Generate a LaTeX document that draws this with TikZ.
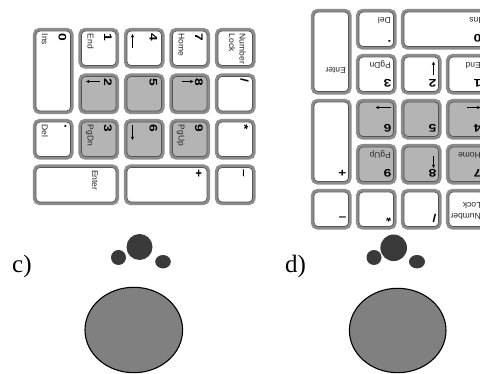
\documentclass[tikz,border=0pt]{standalone}
\usepackage{fontspec}
\usepackage{graphicx}
\setmainfont{Liberation Serif}
\newfontfamily\keyfont{Liberation Sans}
\usetikzlibrary{arrows.meta}

\definecolor{keyrim}{RGB}{140,140,140}
\definecolor{keyedge}{RGB}{85,85,85}
\definecolor{keyshade}{RGB}{180,180,180}
\definecolor{dotgray}{RGB}{58,58,58}
\definecolor{padgray}{RGB}{128,128,128}

\tikzset{
  keycap/.style={draw=keyedge, line width=0.7pt, rounded corners=4pt,
    inner sep=0pt, outer sep=0pt, preaction={draw=keyrim, line width=6.4pt}},
  numtext/.style={inner sep=0pt, anchor=base west,
    font=\keyfont\bfseries\fontsize{11}{12}\selectfont},
  labtext/.style={inner sep=0pt, anchor=base west, text=black!85,
    font=\keyfont\fontsize{8.5}{9}\selectfont},
  keyarrow/.style={line width=0.6pt, -{Stealth[length=3.5pt,width=3.2pt]}},
  panellabel/.style={inner sep=0pt, anchor=base west,
    font=\fontsize{25}{26}\selectfont},
  thumbdot/.style={fill=dotgray},
  touchpad/.style={fill=padgray, draw=black, line width=1.1pt},
}

% digits on the caps are wider than the plain bold face
\newcommand\kdig[1]{\scalebox{1.25}[1]{#1}}

% one key: name, column, row, width and height in cells, fill
\newcommand\kcap[6]{%
  \node[keycap, fill=#6,
        minimum width={#4*\kp-\kgap-6}, minimum height={#5*\kp-\kgap-6}]
        (#1) at ({(#2+#4/2)*\kp},{-(#3+#5/2)*\kp}) {};}
% main legend of a key: name, column, row, text, baseline depth
\newcommand\knum[5]{%
  \node[numtext] (#1) at ({#2*\kp+\kgap/2+5},{-(#3*\kp+\kgap/2+#5)}) {\kdig{#4}};}
% small legend: name, column, row, text, baseline depth
\newcommand\klab[5]{%
  \node[labtext] (#1) at ({#2*\kp+\kgap/2+5.5},{-(#3*\kp+\kgap/2+#5)}) {#4};}
% arrow legend: column, row, start x, start y, end x, end y
\newcommand\karrow[6]{%
  \draw[keyarrow] ({#1*\kp+\kgap/2+#3},{-(#2*\kp+\kgap/2+#4)})
    -- ({#1*\kp+\kgap/2+#5},{-(#2*\kp+\kgap/2+#6)});}

% a numeric keypad in its upright frame, origin at the top left corner
% #1 name prefix, #2 fill of 7 and 4, #3 fill of 2 and 3
\newcommand\numpad[3]{%
  \kcap{#1nl}{0}{0}{1}{1}{white}
  \klab{#1nlA}{0}{0}{Number}{16}
  \klab{#1nlB}{0}{0}{Lock}{26.5}
  \kcap{#1sl}{1}{0}{1}{1}{white}
  \knum{#1slT}{1}{0}{/}{15}
  \kcap{#1st}{2}{0}{1}{1}{white}
  \knum{#1stT}{2}{0}{*}{15}
  \kcap{#1mi}{3}{0}{1}{1}{white}
  \knum{#1miT}{3}{0}{\textendash}{15}
  %
  \kcap{#1k7}{0}{1}{1}{1}{#2}
  \knum{#1t7}{0}{1}{7}{15}
  \klab{#1l7}{0}{1}{Home}{31.5}
  \kcap{#1k8}{1}{1}{1}{1}{keyshade}
  \knum{#1t8}{1}{1}{8}{15}
  \karrow{1}{1}{8}{28.5}{8}{16.5}
  \kcap{#1k9}{2}{1}{1}{1}{keyshade}
  \knum{#1t9}{2}{1}{9}{15}
  \klab{#1l9}{2}{1}{PgUp}{31.5}
  \kcap{#1pl}{3}{1}{1}{2}{white}
  \knum{#1plT}{3}{1}{+}{15}
  %
  \kcap{#1k4}{0}{2}{1}{1}{#2}
  \knum{#1t4}{0}{2}{4}{15}
  \karrow{0}{2}{20}{32}{6}{32}
  \kcap{#1k5}{1}{2}{1}{1}{keyshade}
  \knum{#1t5}{1}{2}{5}{15}
  \kcap{#1k6}{2}{2}{1}{1}{keyshade}
  \knum{#1t6}{2}{2}{6}{15}
  \karrow{2}{2}{6}{32}{21}{32}
  %
  \kcap{#1k1}{0}{3}{1}{1}{white}
  \knum{#1t1}{0}{3}{1}{15}
  \klab{#1l1}{0}{3}{End}{31.5}
  \kcap{#1k2}{1}{3}{1}{1}{#3}
  \knum{#1t2}{1}{3}{2}{15}
  \karrow{1}{3}{8}{19}{8}{33}
  \kcap{#1k3}{2}{3}{1}{1}{#3}
  \knum{#1t3}{2}{3}{3}{15}
  \klab{#1l3}{2}{3}{PgDn}{31.5}
  \kcap{#1en}{3}{3}{1}{2}{white}
  \klab{#1enT}{3}{3}{Enter}{27}
  %
  \kcap{#1k0}{0}{4}{2}{1}{white}
  \knum{#1t0}{0}{4}{0}{15}
  \klab{#1l0}{0}{4}{Ins}{31.5}
  \kcap{#1dt}{2}{4}{1}{1}{white}
  \knum{#1dtT}{2}{4}{.}{9}
  \klab{#1ldt}{2}{4}{Del}{31.5}
}

\begin{document}
\begin{tikzpicture}[x=1pt,y=1pt]
\useasboundingbox (0,0) rectangle (480,374);
\clip (0,0) rectangle (480,374);

% keypad turned a quarter turn clockwise
\begin{scope}[shift={(258,348.5)}, rotate=-90, transform shape]
  \def\kp{45.5}\def\kgap{5}
  \numpad{L}{white}{keyshade}
\end{scope}

% keypad turned upside down
\begin{scope}[shift={(488.75,142.25)}, rotate=180, transform shape]
  \def\kp{45}\def\kgap{4.5}
  \numpad{R}{keyshade}{white}
\end{scope}

% panel c
\node[panellabel] (lblc) at (12,101) {c)};
\fill[thumbdot] (139.5,127) circle (13pt);
\fill[thumbdot] (118.5,116.5) circle (7.5pt);
\fill[thumbdot] (163,112.3) ellipse (7.8pt and 6.7pt);
\draw[touchpad] (133.8,44) ellipse (48.8pt and 42.7pt);

% panel d
\node[panellabel] (lbld) at (285,101) {d)};
\fill[thumbdot] (393.7,126.2) circle (13.3pt);
\fill[thumbdot] (374,116.5) circle (7.5pt);
\fill[thumbdot] (417,112.3) ellipse (8pt and 6.7pt);
\draw[touchpad] (397.7,43.5) ellipse (48.3pt and 42.2pt);
\end{tikzpicture}
\end{document}
